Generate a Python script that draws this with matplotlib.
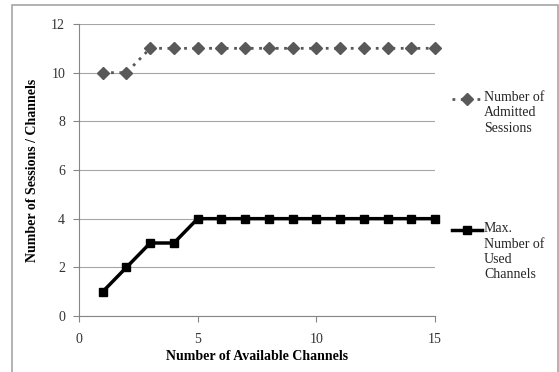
import matplotlib.pyplot as plt
from matplotlib.lines import Line2D

plt.rcParams['font.family'] = ['Liberation Serif', 'DejaVu Serif']

channels = [1, 2, 3, 4, 5, 6, 7, 8, 9, 10, 11, 12, 13, 14, 15]
admitted = [10, 10, 11, 11, 11, 11, 11, 11, 11, 11, 11, 11, 11, 11, 11]
used = [1, 2, 3, 3, 4, 4, 4, 4, 4, 4, 4, 4, 4, 4, 4]
labels = ['Number of\nAdmitted\nSessions', 'Max.\nNumber of\nUsed\nChannels']

W, H = 559, 372
fig = plt.figure(figsize=(W / 100, H / 100), dpi=100)
ax = fig.add_axes([79 / W, 1 - 316 / H, (435 - 79) / W, (316 - 24) / H])

# outer chart border
fig.patches.append(plt.Rectangle((12 / W, -0.01), 1 - 12 / W - 0.002, 1 - 5 / H + 0.01,
                                 transform=fig.transFigure, fill=False,
                                 edgecolor='#a6a6a6', linewidth=1.2))

ax.grid(axis='y', color='#a6a6a6', linewidth=0.8)
ax.set_axisbelow(True)

dotted = dict(linestyle=(0, (1, 2)), color='#595959', linewidth=2, marker='D', markersize=6)
solid = dict(linestyle='-', color='black', linewidth=2.5, marker='s', markersize=6)
ax.plot(channels, admitted, clip_on=False, **dotted)
ax.plot(channels, used, clip_on=False, **solid)

ax.set_xlim(0, 15)
ax.set_ylim(0, 12)
ax.set_xticks([0, 5, 10, 15])
ax.set_yticks([0, 2, 4, 6, 8, 10, 12])
for s in ['top', 'right']:
    ax.spines[s].set_visible(False)
for s in ['left', 'bottom']:
    ax.spines[s].set_color('#868686')
ax.tick_params(axis='both', colors='#868686', labelcolor='#333333', labelsize=10, length=4)
ax.tick_params(axis='x', pad=8)
ax.tick_params(axis='y', pad=6)

ax.set_xlabel('Number of Available Channels', fontsize=10, fontweight='bold', labelpad=3)
ax.set_ylabel('Number of Sessions / Channels', fontsize=10, fontweight='bold', labelpad=9)

# legend: handle aligned with first text line
for style, lab, ytop in [(dotted, labels[0], 99), (solid, labels[1], 230)]:
    yf = 1 - ytop / H
    fig.add_artist(Line2D([452 / W, 482 / W], [yf, yf], transform=fig.transFigure,
                          linestyle=style['linestyle'], color=style['color'],
                          linewidth=style['linewidth']))
    fig.add_artist(Line2D([467 / W], [yf], transform=fig.transFigure,
                          linestyle='none', marker=style['marker'], color=style['color'],
                          markersize=6))
    fig.text(484 / W, yf + 8 / H, lab, fontsize=10, color='#262626', va='top',
             ha='left', linespacing=1.25)

fig.savefig('out.png', dpi=100)
